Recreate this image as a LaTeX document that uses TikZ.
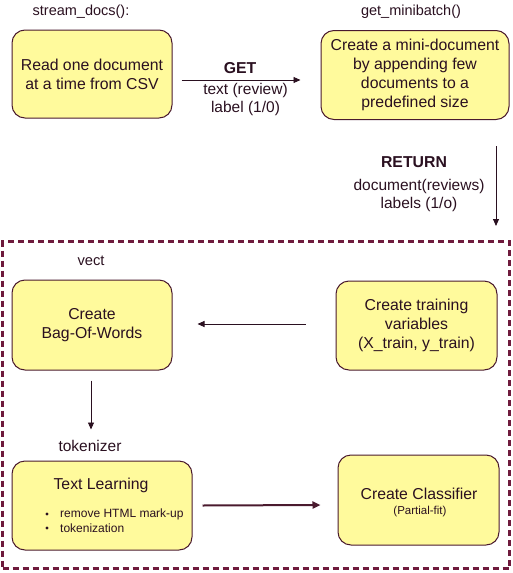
\documentclass[tikz,border=0pt]{standalone}
\usepackage{fontspec}
\setmainfont{Liberation Sans}
\usetikzlibrary{arrows.meta,calc}
\definecolor{boxfill}{HTML}{FFFA9C}
\definecolor{boxline}{HTML}{4A1A2E}
\definecolor{frameline}{HTML}{6E1A3C}
\definecolor{txt}{HTML}{2A1020}
\tikzset{
  x=1pt,y=-1pt,
  box/.style={draw=boxline, fill=boxfill, line width=1pt, rounded corners=13pt, align=center, text=txt, inner sep=2pt, font=\fontsize{15.8}{19}\selectfont},
  lbl/.style={text=txt, font=\fontsize{15.5}{17}\selectfont, inner sep=1pt},
  arlbl/.style={text=txt, font=\fontsize{15.5}{17.5}\selectfont, inner sep=1pt, align=center},
  boldlbl/.style={text=txt, font=\bfseries\fontsize{15.8}{17}\selectfont, inner sep=0pt},
  conn/.style={draw=txt, line width=0.9pt, -{Triangle[length=7pt,width=6pt]}},
  thickconn/.style={draw=boxline, line width=2pt, -{Triangle[length=8pt,width=7pt]}}
}
\begin{document}
\begin{tikzpicture}
\useasboundingbox (0,0) rectangle (512,573);
% dashed frame
\node[draw=frameline, line width=2.6pt, dash pattern=on 6pt off 4pt, minimum width=507pt, minimum height=327pt, inner sep=0pt] (frame) at (256,405) {};
% boxes
\node[box, minimum width=160pt, minimum height=88pt] (b1) at (92,74) {Read one document\\at a time from CSV};
\node[box, minimum width=188pt, minimum height=89pt] (b2) at (415,75) {Create a mini-document\\by appending few\\documents to a\\predefined size};
\node[box, minimum width=160pt, minimum height=90pt] (b3) at (92,325) {Create\\Bag-Of-Words};
\node[box, minimum width=161pt, minimum height=89pt] (b4) at (416.5,325.5) {Create training\\variables\\(X\_train, y\_train)};
\node[box, minimum width=180pt, minimum height=89pt] (b5) at (102,505.5) {};
\node[box, minimum width=161pt, minimum height=90pt] (b6) at (418.5,500) {};
% box contents
\node[text=txt, font=\fontsize{15.8}{18}\selectfont, inner sep=0pt] (b5t) at (101,485) {Text Learning};
\node[text=txt, font=\fontsize{12}{14}\selectfont, inner sep=0pt, anchor=west] (b5a) at (60,514) {remove HTML mark-up};
\node[text=txt, font=\fontsize{12}{14}\selectfont, inner sep=0pt, anchor=west] (b5b) at (60,528) {tokenization};
\fill[txt] (47,514) circle (1.6pt);
\fill[txt] (47,528) circle (1.6pt);
\node[text=txt, font=\fontsize{15.8}{18}\selectfont, inner sep=0pt] (b6t) at (419,494) {Create Classifier};
\node[text=txt, font=\fontsize{11.5}{13}\selectfont, inner sep=0pt] (b6s) at (420,512) {(Partial-fit)};
% labels
\node[lbl, font=\fontsize{14.5}{17}\selectfont] (l1) at (81,12) {stream\_docs():};
\node[lbl, font=\fontsize{14.5}{17}\selectfont] (l2) at (411,12) {get\_minibatch()};
\node[lbl, font=\fontsize{14.7}{17}\selectfont] (l3) at (91,261) {vect};
\node[lbl] (l4) at (90,446) {tokenizer};
% GET arrow
\draw[conn] ($(b1.east)+(9,6)$) -- ($(b2.west)+(-20,5)$);
\node[boldlbl] (get) at (240,68) {GET};
\node[arlbl] (getl) at (245.5,99.5) {text (review)\\label (1/0)};
% RETURN arrow
\coordinate (r1) at (496,146);
\coordinate (r2) at (496,226);
\draw[conn] (r1) -- (r2);
\node[boldlbl] (ret) at (414,162) {RETURN};
\node[arlbl] (retl) at (419,195.5) {document(reviews)\\labels (1/o)};
% inner arrows
\draw[conn] ($(b4.west)+(-30,-1.5)$) -- ($(b3.east)+(25,-1)$);
\draw[conn] ($(b3.south)+(-1,10)$) -- ($(b5.north)+(-11,-31)$);
\draw[thickconn] ($(b5.east)+(10,0)$) -- ($(b6.west)+(-17,5)$);
\end{tikzpicture}
\end{document}
